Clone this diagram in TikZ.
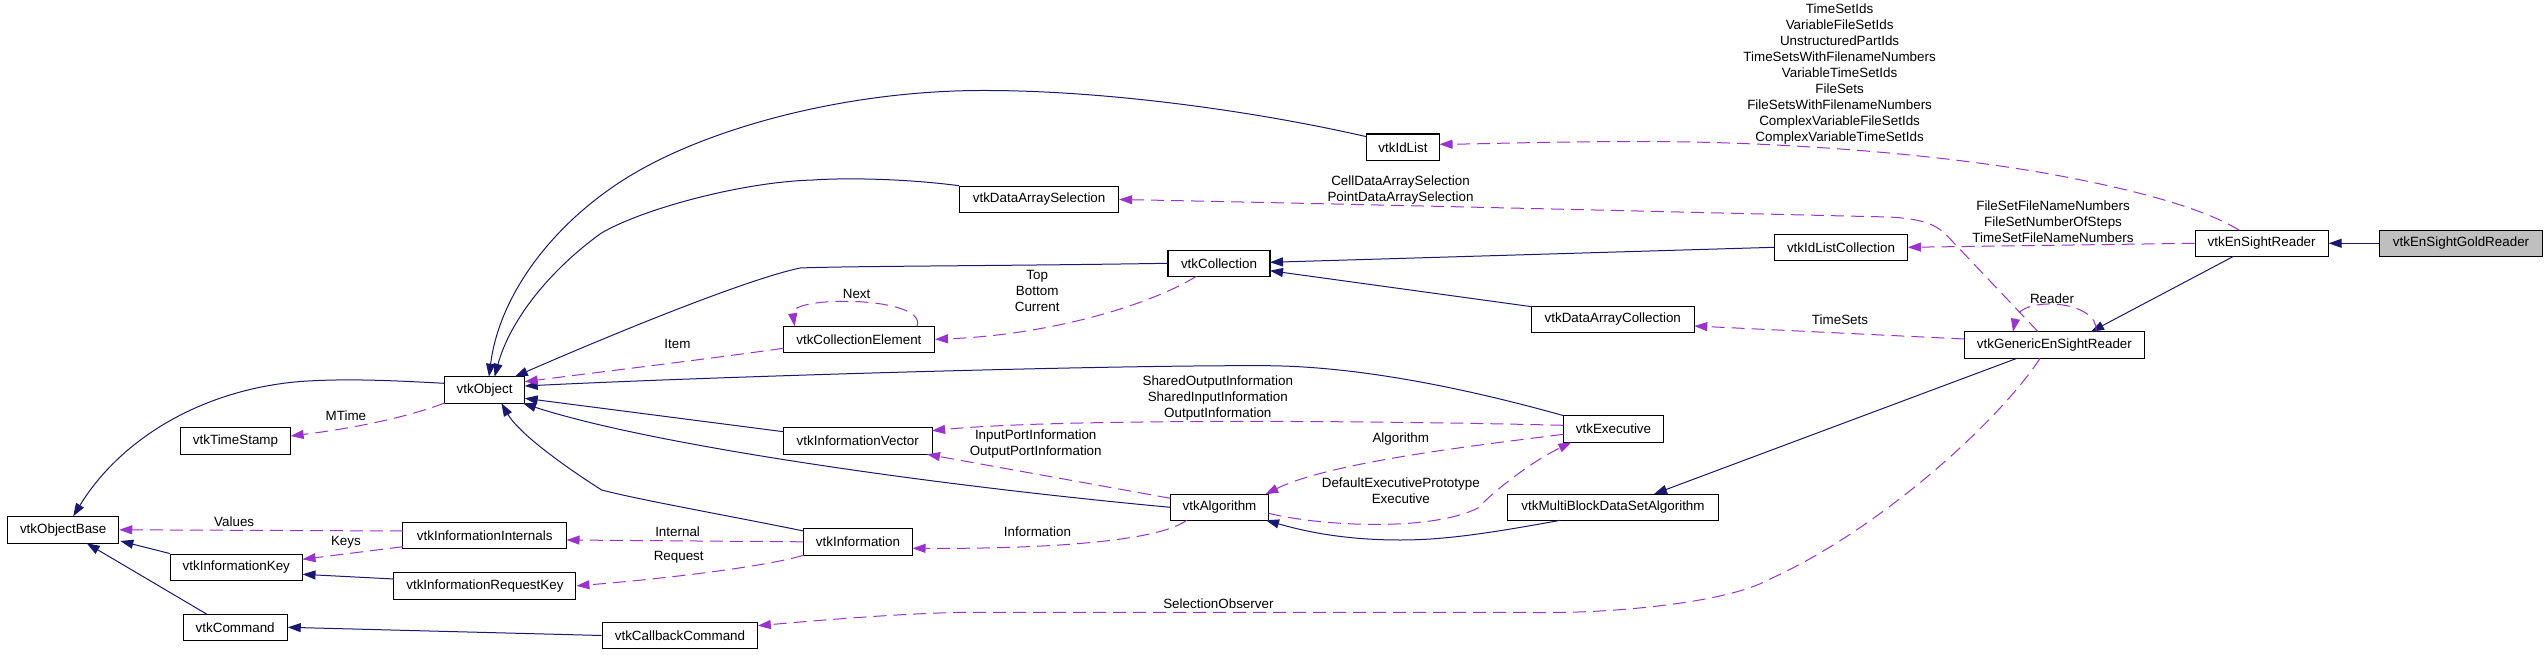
\documentclass[tikz,border=0pt]{standalone}
\usepackage{fontspec}
\setmainfont{Liberation Sans}
\usetikzlibrary{arrows.meta}
\definecolor{edgeblue}{HTML}{191970}
\definecolor{edgepurple}{HTML}{9A32CD}
\definecolor{goldfill}{HTML}{BFBFBF}
\begin{document}
\begin{tikzpicture}[x=1pt,y=-1pt,
  cls/.style={draw=black, line width=1.1pt, fill=white, minimum height=26.5pt, inner sep=0pt, font=\fontsize{13.4}{16}\selectfont},
  inh/.style={draw=edgeblue, line width=1pt, -{Triangle[length=13pt,width=9pt]}, color=edgeblue},
  use/.style={draw=edgepurple, line width=1pt, dash pattern=on 13pt off 7pt, -{Triangle[length=13pt,width=9pt]}, color=edgepurple},
  lbl/.style={font=\fontsize{13.4}{16}\selectfont, align=center, inner sep=0pt, text=black}]
\fill[white] (0,0) rectangle (2547,655);
\useasboundingbox (0,0) rectangle (2547,655);
% nodes
\node[cls, fill=goldfill, minimum width=163pt] (gold) at (2461,243.3) {vtkEnSightGoldReader};
\node[cls, minimum width=133pt] (ensr) at (2261.6,243.3) {vtkEnSightReader};
\node[cls, minimum width=180pt] (gen) at (2054.4,345) {vtkGenericEnSightReader};
\node[cls, minimum width=73pt] (idl) at (1403,147.3) {vtkIdList};
\node[cls, minimum width=132.6pt] (idlc) at (1841,247.3) {vtkIdListCollection};
\node[cls, minimum width=163pt] (dac) at (1612.8,319.3) {vtkDataArrayCollection};
\node[cls, minimum width=159pt] (das) at (1039.1,199.5) {vtkDataArraySelection};
\node[cls, minimum width=102pt] (coll) at (1219,263.3) {vtkCollection};
\node[cls, minimum width=151pt] (ce) at (858.9,339.3) {vtkCollectionElement};
\node[cls, minimum width=80pt] (obj) at (484.6,390) {vtkObject};
\node[cls, minimum width=149pt] (iv) at (857.8,440.8) {vtkInformationVector};
\node[cls, minimum width=100pt] (exe) at (1613.5,429) {vtkExecutive};
\node[cls, minimum width=98pt] (alg) at (1219.5,507.3) {vtkAlgorithm};
\node[cls, minimum width=211pt] (mb) at (1613,507.3) {vtkMultiBlockDataSetAlgorithm};
\node[cls, minimum width=109pt] (info) at (858,541.8) {vtkInformation};
\node[cls, minimum width=110pt] (ts) at (235.5,440.8) {vtkTimeStamp};
\node[cls, minimum width=111pt] (ob) at (63.2,529.8) {vtkObjectBase};
\node[cls, minimum width=164pt] (ii) at (484.7,535.5) {vtkInformationInternals};
\node[cls, minimum width=132pt] (ik) at (236.3,567.3) {vtkInformationKey};
\node[cls, minimum width=182pt] (irk) at (484.9,585.8) {vtkInformationRequestKey};
\node[cls, minimum width=104pt] (cmd) at (235.2,627.3) {vtkCommand};
\node[cls, minimum width=155.5pt] (cbc) at (680,635.5) {vtkCallbackCommand};
% inheritance edges
\draw[inh] (gold.west) -- (ensr.east);
\draw[inh] ([shift={(-28,13)}]ensr.center) -- ([shift={(36.6,-13.3)}]gen.center);
\draw[inh] ([shift={(-37.4,13.3)}]gen.center) -- ([shift={(41,-13.3)}]mb.center);
\draw[inh] ([shift={(-52.6,13)}]mb.center) .. controls (1480,535) and (1440,540) .. (1400,540) .. controls (1340,540) and (1300,530) .. ([shift={(46.5,13)}]alg.center);
\draw[inh] ([shift={(-49.2,0)}]alg.center) .. controls (940,486) and (654,446) .. ([shift={(38.4,13.3)}]obj.center);
\draw[inh] ([shift={(-49.7,-13.3)}]exe.center) .. controls (1490,395) and (1370,366) .. (1265,365.7) .. controls (1100,365) and (705,377) .. ([shift={(40.1,-4)}]obj.center);
\draw[inh] ([shift={(-74.4,-9.1)}]iv.center) -- ([shift={(40.1,8.3)}]obj.center);
\draw[inh] ([shift={(-54.4,-10.8)}]info.center) .. controls (720,514) and (640,500) .. (601.7,490) .. controls (570,470) and (520,435) .. ([shift={(16.8,13.3)}]obj.center);
\draw[inh] ([shift={(-51,0)}]coll.center) .. controls (1000,266) and (850,266) .. (800,268) .. controls (740,281) and (595,341.7) .. ([shift={(30.2,-13.3)}]obj.center);
\draw[inh] (idlc.west) -- ([shift={(51,-1)}]coll.center);
\draw[inh] ([shift={(-81.1,-12.6)}]dac.center) -- ([shift={(51,7.4)}]coll.center);
\draw[inh] (das.north west) .. controls (900,178) and (840,178) .. (813,180) .. controls (740,182) and (640,210) .. (601,233.3) .. controls (550,270) and (510,320) .. ([shift={(10,-13.3)}]obj.center);
\draw[inh] ([shift={(-36.4,-10.6)}]idl.center) .. controls (1250,110) and (1100,90) .. (980,90.5) .. controls (850,91) and (720,125) .. (640,170) .. controls (560,215) and (500,290) .. ([shift={(4.4,-13.3)}]obj.center);
\draw[inh] ([shift={(-40.1,-6.7)}]obj.center) .. controls (400,381) and (350,378) .. (300,381.5) .. controls (200,390) and (120,440) .. ([shift={(10,-13.5)}]ob.center);
\draw[inh] (ik.north west) -- ([shift={(57.1,11.2)}]ob.center);
\draw[inh] ([shift={(-28.2,-13)}]cmd.center) -- ([shift={(23.5,13.5)}]ob.center);
\draw[inh] ([shift={(-90.9,-6.8)}]irk.center) -- ([shift={(66.2,7)}]ik.center);
\draw[inh] (cbc.west) -- (cmd.east);
% usage edges
\draw[use] ([shift={(-22.3,-13)}]ensr.center) .. controls (2210,212) and (2150,192) .. (2046,173.3) .. controls (1930,153) and (1780,142) .. (1650,141.5) .. controls (1550,141.5) and (1480,144) .. ([shift={(36.5,-3)}]idl.center);
\draw[use] (ensr.west) -- (idlc.east);
\draw[use] ([shift={(-16.4,-13.3)}]gen.center) -- (1948,236.7) .. controls (1935,222) and (1915,217) .. (1874,216.7) .. controls (1600,210) and (1300,203) .. (das.east);
\draw[use] ([shift={(41.6,-13.3)}]gen.center) .. controls (2100,300) and (2020,295) .. ([shift={(-41.4,-13.3)}]gen.center);
\draw[use] ([shift={(-90.1,-6)}]gen.center) -- ([shift={(81.5,6.7)}]dac.center);
\draw[use] ([shift={(-14.4,13.3)}]gen.center) .. controls (2000,420) and (1880,530) .. (1767.8,580) .. controls (1728,602) and (1620,612.5) .. (1550,612.5) -- (968,612.3) .. controls (900,613) and (800,622) .. ([shift={(77.8,-9.8)}]cbc.center);
\draw[use] ([shift={(-22.6,13)}]coll.center) .. controls (1150,305) and (1050,335) .. (ce.east);
\draw[use] ([shift={(58.1,-13)}]ce.center) .. controls (928,296) and (790,295) .. ([shift={(-64.3,-13)}]ce.center);
\draw[use] ([shift={(-75.5,9)}]ce.center) .. controls (700,360) and (600,372) .. ([shift={(40.1,-8.3)}]obj.center);
\draw[use] ([shift={(-50.2,-3.7)}]exe.center) .. controls (1350,420) and (1050,419) .. ([shift={(74.3,-10.1)}]iv.center);
\draw[use] ([shift={(-49.1,-9)}]alg.center) -- ([shift={(69.2,13.5)}]iv.center);
\draw[use] ([shift={(-50.2,5.3)}]exe.center) .. controls (1480,445) and (1330,462) .. ([shift={(45.8,-13)}]alg.center);
\draw[use] ([shift={(49.1,6)}]alg.center) .. controls (1320,526) and (1430,532) .. (1478,508) .. controls (1495,490) and (1531,462) .. ([shift={(-42.1,13.3)}]exe.center);
\draw[use] ([shift={(-32.8,13)}]alg.center) .. controls (1160,540) and (1060,549) .. ([shift={(54.5,6.5)}]info.center);
\draw[use] ([shift={(-40,13)}]obj.center) .. controls (400,420) and (340,430) .. ([shift={(55.1,-4.8)}]ts.center);
\draw[use] (info.west) -- ([shift={(81.8,4.5)}]ii.center);
\draw[use] ([shift={(-54.4,13.5)}]info.center) .. controls (760,568) and (650,580) .. (irk.east);
\draw[use] ([shift={(-81.9,-4.5)}]ii.center) -- (ob.east);
\draw[use] ([shift={(-81.9,11.2)}]ii.center) -- ([shift={(66.2,-8)}]ik.center);
% labels
\node[lbl] (la) at (1839.6,73.8) {TimeSetIds\\VariableFileSetIds\\UnstructuredPartIds\\TimeSetsWithFilenameNumbers\\VariableTimeSetIds\\FileSets\\FileSetsWithFilenameNumbers\\ComplexVariableFileSetIds\\ComplexVariableTimeSetIds};
\node[lbl] (lb) at (2053,221.7) {FileSetFileNameNumbers\\FileSetNumberOfSteps\\TimeSetFileNameNumbers};
\node[lbl] (lc) at (1400.5,189.7) {CellDataArraySelection\\PointDataArraySelection};
\node[lbl] (ld) at (2052,299) {Reader};
\node[lbl] (le) at (1840,320) {TimeSets};
\node[lbl] (lf) at (1218.4,603.3) {SelectionObserver};
\node[lbl] (lg) at (1037.2,290.8) {Top\\Bottom\\Current};
\node[lbl] (lh) at (856.6,293.5) {Next};
\node[lbl] (li) at (677.5,344) {Item};
\node[lbl] (lj) at (1217.8,397.7) {SharedOutputInformation\\SharedInputInformation\\OutputInformation};
\node[lbl] (lk) at (1035.7,443.7) {InputPortInformation\\OutputPortInformation};
\node[lbl] (ll) at (1400.8,439) {Algorithm};
\node[lbl] (lm) at (1400.8,491) {DefaultExecutivePrototype\\Executive};
\node[lbl] (ln) at (1037.5,531.7) {Information};
\node[lbl] (lo) at (345.9,416) {MTime};
\node[lbl] (lp) at (677.6,531.7) {Internal};
\node[lbl] (lq) at (678.7,557.7) {Request};
\node[lbl] (lr) at (234.2,521.7) {Values};
\node[lbl] (ls) at (345.9,542.3) {Keys};
\end{tikzpicture}
\end{document}
